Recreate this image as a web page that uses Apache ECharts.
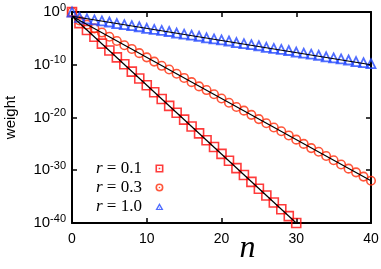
<!DOCTYPE html>
<html>
<head>
<meta charset="utf-8">
<script src="https://cdn.jsdelivr.net/npm/echarts@6/dist/echarts.min.js"></script>
<style>html,body{margin:0;padding:0;background:#fff;}#c{width:381px;height:269px;}</style>
</head>
<body>
<div id="c"></div>
<script>
// log10 of weight
const nSq = [0,1,2,3,4,5,6,7,8,9,10,11,12,13,14,15,16,17,18,19,20,21,22,23,24,25,26,27,28,29,30];
const expSq = [0,-2.1,-3.4,-4.7,-6.0,-7.3,-8.6,-9.9,-11.3,-12.6,-13.9,-15.2,-16.5,-17.8,-19.1,-20.4,-21.7,-23.0,-24.3,-25.6,-26.9,-28.2,-29.6,-30.9,-32.2,-33.5,-34.8,-36.1,-37.4,-38.7,-40.0];
const nLong = [0,1,2,3,4,5,6,7,8,9,10,11,12,13,14,15,16,17,18,19,20,21,22,23,24,25,26,27,28,29,30,31,32,33,34,35,36,37,38,39,40];
const expCi = [0,-1.6,-2.4,-3.1,-3.9,-4.7,-5.5,-6.3,-7.0,-7.8,-8.6,-9.4,-10.2,-10.9,-11.7,-12.5,-13.3,-14.1,-14.8,-15.6,-16.4,-17.2,-18.0,-18.7,-19.5,-20.3,-21.1,-21.9,-22.6,-23.4,-24.2,-25.0,-25.8,-26.5,-27.3,-28.1,-28.9,-29.7,-30.4,-31.2,-32.0];
const expTr = [0,-1.0,-1.3,-1.5,-1.7,-1.9,-2.2,-2.4,-2.6,-2.8,-3.1,-3.3,-3.5,-3.7,-4.0,-4.2,-4.4,-4.6,-4.9,-5.1,-5.3,-5.5,-5.8,-6.0,-6.2,-6.4,-6.7,-6.9,-7.1,-7.3,-7.6,-7.8,-8.0,-8.2,-8.5,-8.7,-8.9,-9.1,-9.4,-9.6,-9.8];
// fit lines (endpoints, log10 of weight)
const fitSqN = [0,30], fitSqE = [-0.8,-40.0];
const fitCiN = [0,40], fitCiE = [-0.8,-32.0];
const fitTrN = [0,40], fitTrE = [-0.8,-10.0];
const names = ['r = 0.1','r = 0.3','r = 1.0'];
const yTickExp = [-40,-30,-20,-10,0];

const pts = (ns, es) => ns.map((n,i)=>[n, Math.pow(10, es[i])]);
const yTicks = yTickExp.map(e => Math.pow(10, e));
const cSq = '#ff0a0a', cCi = '#ff2c0a', cTr = '#2448ff';

const iconSq = 'path://M0,0H10V10H0Z M2,2V8H8V2Z M4,4H6V6H4Z';
const iconCi = 'path://M5,0A5,5 0 1,1 5,10A5,5 0 1,1 5,0Z M5,2A3,3 0 1,0 5,8A3,3 0 1,0 5,2Z M5,4A1,1 0 1,1 5,6A1,1 0 1,1 5,4Z';
const iconTr = 'path://M5,0L10,9L0,9Z M5,3.5L2.8,7.5L7.2,7.5Z M5,5.5L5.8,7L4.2,7Z';

const chart = echarts.init(document.getElementById('c'), null, {renderer:'canvas'});
const mkLine = () => ({show:true, onZero:false, lineStyle:{color:'#000', width:2}});
const mkTick = () => ({show:true, inside:true, length:5, lineStyle:{color:'#000', width:1.5}});
chart.setOption({
  animation:false,
  backgroundColor:'#fff',
  grid:{left:72, right:10, top:12, bottom:46, containLabel:false, outerBoundsMode:'none'},
  legend:{
    orient:'vertical', left:91, top:155, align:'right',
    itemWidth:8, itemHeight:8, itemGap:2,
    data:[
      {name:names[0], icon:iconSq, itemStyle:{color:cSq, borderWidth:0}},
      {name:names[1], icon:iconCi, itemStyle:{color:cCi, borderWidth:0}},
      {name:names[2], icon:iconTr, itemStyle:{color:cTr, borderWidth:0}}
    ],
    formatter: nm => '{i|r}{t| = ' + nm.split('=')[1].trim() + '  }',
    textStyle:{rich:{
      i:{fontFamily:'Liberation Serif', fontStyle:'italic', fontSize:17, color:'#000'},
      t:{fontFamily:'Liberation Serif', fontSize:17, color:'#000'}
    }}
  },
  xAxis:[{
    type:'value', min:0, max:40, interval:10,
    axisLine:mkLine(), axisTick:mkTick(), splitLine:{show:false},
    axisLabel:{fontFamily:'Liberation Sans', fontSize:14, color:'#000', margin:9},
    name:'n', nameLocation:'middle', nameGap:10, nameMoveOverlap:false,
    nameTextStyle:{fontFamily:'Liberation Serif', fontStyle:'italic', fontSize:32, color:'#000', padding:[0,0,0,52]}
  },{
    type:'value', min:0, max:40, interval:10, position:'top',
    axisLine:mkLine(), axisTick:mkTick(), splitLine:{show:false}, axisLabel:{show:false}
  }],
  yAxis:[{
    type:'log', logBase:10, min:1e-40, max:1, splitNumber:4,
    axisLine:mkLine(), splitLine:{show:false},
    axisTick:Object.assign(mkTick(), {customValues:yTicks}),
    axisLabel:{
      margin:6, color:'#000', customValues:yTicks,
      formatter: v => '{b|10}{s|' + Math.round(Math.log10(v)) + '}',
      rich:{
        b:{fontFamily:'Liberation Sans', fontSize:15, color:'#000'},
        s:{fontFamily:'Liberation Sans', fontSize:11, color:'#000', padding:[0,0,9,0]}
      }
    },
    name:'weight', nameLocation:'middle', nameGap:54, nameMoveOverlap:false,
    nameTextStyle:{fontFamily:'Liberation Sans', fontSize:15, color:'#000'}
  },{
    type:'log', logBase:10, min:1e-40, max:1, splitNumber:4, position:'right',
    axisLine:mkLine(), axisTick:Object.assign(mkTick(), {customValues:yTicks}),
    splitLine:{show:false}, axisLabel:{show:false}
  }],
  series:[
    {name:names[0], type:'scatter', data:pts(nSq, expSq), symbol:'rect', symbolSize:9, clip:false,
     itemStyle:{color:'rgba(0,0,0,0)', borderColor:cSq, borderWidth:1.6}, z:2},
    {name:names[1], type:'scatter', data:pts(nLong, expCi), symbol:'circle', symbolSize:8.5, clip:false,
     itemStyle:{color:'rgba(0,0,0,0)', borderColor:cCi, borderWidth:1.6}, z:2},
    {name:names[2], type:'scatter', data:pts(nLong, expTr), symbol:'triangle', symbolSize:9, clip:false,
     itemStyle:{color:'rgba(0,0,0,0)', borderColor:cTr, borderWidth:1.8}, z:2},
    {type:'line', data:pts(fitSqN, fitSqE), showSymbol:false, symbol:'none', lineStyle:{color:'#000', width:1.2}, z:3, silent:true},
    {type:'line', data:pts(fitCiN, fitCiE), showSymbol:false, symbol:'none', lineStyle:{color:'#000', width:1.2}, z:3, silent:true},
    {type:'line', data:pts(fitTrN, fitTrE), showSymbol:false, symbol:'none', lineStyle:{color:'#000', width:1.2}, z:3, silent:true}
  ]
});
</script>
</body>
</html>
